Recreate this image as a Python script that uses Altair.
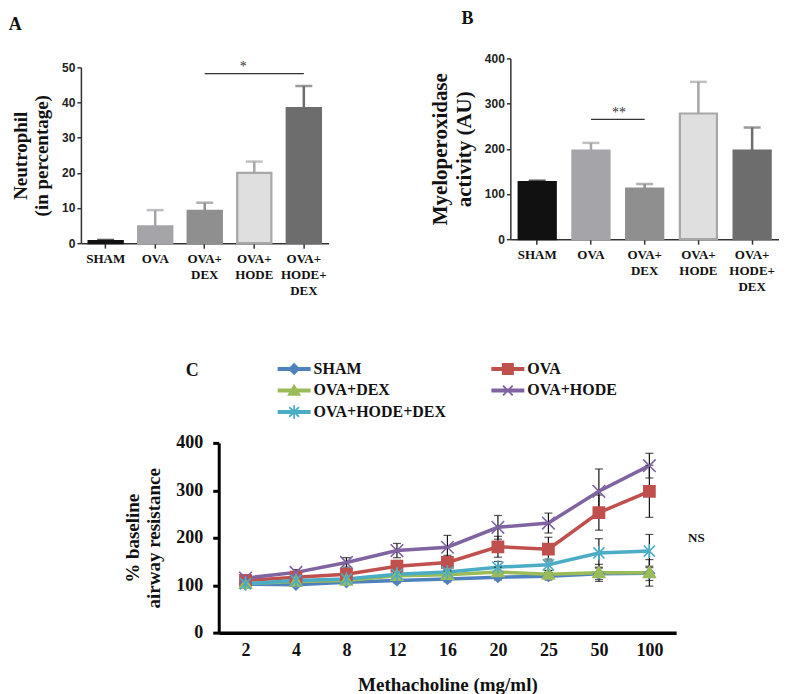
import json
import altair as alt
import pandas as pd

SERIF = "Liberation Serif"
SANS = "Liberation Sans"

# ---------------- Panels A and B ----------------
groups = ["SHAM", "OVA", "OVA+DEX", "OVA+HODE", "OVA+HODE+DEX"]
group_tick_lines = [["SHAM"], ["OVA"], ["OVA+", "DEX"], ["OVA+", "HODE"], ["OVA+", "HODE+", "DEX"]]

neutrophil_mean = [0.6, 4.8, 9.2, 20.0, 38.4]
neutrophil_sem = [0.3, 4.6, 2.3, 3.2, 6.3]

mpo_mean = [126, 196, 112, 278, 196]
mpo_sem = [3, 17, 10, 70, 51]

fills_a = ["#111111", "#a4a4a9", "#8f8f8f", "#dfdfdf", "#6d6d6d"]
edges_a = ["#111111", "#a4a4a9", "#8f8f8f", "#a7a7a7", "#6d6d6d"]
fills_b = ["#0b0b0b", "#a6a6ab", "#868686", "#d9d9d9", "#5f5f5f"]
edges_b = ["#0b0b0b", "#a6a6ab", "#868686", "#a6a6a6", "#5f5f5f"]

sig_a = {"start": "OVA+DEX", "end": "OVA+HODE+DEX", "level": 48.2, "star_at": "OVA+HODE",
         "star_y": 50.2, "label": "*"}
sig_b = {"start": "OVA", "end": "OVA+DEX", "level": 265, "star_at": "OVA", "star_y": 279,
         "label": "**"}

# ---------------- Panel C ----------------
doses = ["2", "4", "8", "12", "16", "20", "25", "50", "100"]
series_names = ["SHAM", "OVA", "OVA+DEX", "OVA+HODE", "OVA+HODE+DEX"]
series_colors = ["#4f81bd", "#c0504d", "#9bbb59", "#8064a2", "#4bacc6"]

sham = [102, 101, 106, 110, 113, 117, 119, 124, 125]
ova = [110, 117, 123, 140, 148, 181, 176, 253, 298]
ova_dex = [103, 108, 110, 120, 122, 128, 123, 126, 126]
ova_hode = [115, 127, 148, 173, 180, 222, 231, 298, 352]
ova_hode_dex = [103, 110, 113, 123, 128, 138, 143, 168, 172]

sham_err = [2, 3, 4, 5, 6, 6, 8, 12, 15]
ova_err = [5, 8, 10, 12, 15, 22, 25, 37, 55]
ova_dex_err = [3, 4, 5, 6, 8, 10, 8, 18, 28]
ova_hode_err = [5, 6, 10, 15, 25, 25, 21, 47, 26]
ova_hode_dex_err = [3, 5, 6, 8, 10, 12, 12, 30, 35]

marker_paths = [
    "M0,-0.72L0.72,0L0,0.72L-0.72,0Z",
    "M-0.8,-0.8H0.8V0.8H-0.8Z",
    "M0,-0.9L0.85,0.65H-0.85Z",
    "M-0.9,-0.9L0.9,0.9M-0.9,0.9L0.9,-0.9",
    "M-0.8,-0.8L0.8,0.8M-0.8,0.8L0.8,-0.8M0,-1L0,1",
]
# legend symbols: line segment + marker, all as filled (clockwise) outlines
legend_line = "M-1.65,-0.2H1.65V0.2H-1.65Z"
legend_cross = ("M-0.55,-0.42L-0.42,-0.55L0,-0.13L0.42,-0.55L0.55,-0.42L0.13,0"
                "L0.55,0.42L0.42,0.55L0,0.13L-0.42,0.55L-0.55,0.42L-0.13,0Z")
legend_paths = [
    legend_line + "M0,-0.62L0.62,0L0,0.62L-0.62,0Z",
    legend_line + "M-0.6,-0.6H0.6V0.6H-0.6Z",
    legend_line + "M0,-0.68L0.7,0.52H-0.7Z",
    legend_line + legend_cross,
    legend_line + legend_cross + "M-0.09,-0.68H0.09V0.68H-0.09Z",
]
# legend fills columns first: left column SHAM, OVA+DEX, OVA+HODE+DEX; right column OVA, OVA+HODE
legend_order = [0, 2, 4, 1, 3]

ns_note = {"dose": "100", "value": 200, "label": "NS"}


def bar_panel(letter, y_title, means, errs, fills, edges, y_max, y_step,
              width, height, top_gap, title_size, title_line, sig, title_dx, title_dy):
    df = pd.DataFrame({"group": groups, "value": means,
                       "top": [m + e for m, e in zip(means, errs)]})
    label_expr = json.dumps(dict(zip(groups, group_tick_lines))) + "[datum.label]"

    def X(field):
        return alt.X(f"{field}:N", title=None,
                     scale=alt.Scale(domain=groups, paddingInner=0.31, paddingOuter=0.155),
                     axis=alt.Axis(labelExpr=label_expr, labelAngle=0, labelFont=SERIF,
                                   labelFontWeight="bold", labelFontSize=13, labelLineHeight=16,
                                   labelColor="#111111", labelPadding=4, tickSize=5,
                                   tickWidth=1.5, tickColor="#333333", domainColor="#333333",
                                   domainWidth=1.5))

    def Y(field):
        return alt.Y(f"{field}:Q", title=y_title,
                     scale=alt.Scale(domain=[0, y_max], nice=False,
                                     range=[height, top_gap]),
                     axis=alt.Axis(values=list(range(0, y_max + 1, y_step)), labelFont=SANS,
                                   labelFontWeight="bold", labelFontSize=12, labelColor="#222222",
                                   tickSize=4, tickWidth=1.5, tickColor="#333333",
                                   domainColor="#333333", domainWidth=1.5, labelPadding=2,
                                   titleFont=SERIF, titleFontWeight="bold",
                                   titleFontSize=title_size, titleLineHeight=title_line,
                                   titleColor="#111111", titlePadding=10))

    edge_color = alt.Color("group:N", scale=alt.Scale(domain=groups, range=edges), legend=None)
    base = alt.Chart(df)
    err_line = base.mark_rule(strokeWidth=2.5).encode(x=X("group"), y=Y("value"), y2="top:Q",
                                                      color=edge_color)
    err_cap = base.mark_tick(thickness=2.5, size=17).encode(x=X("group"), y=Y("top"),
                                                            color=edge_color)
    bars = base.mark_bar(strokeWidth=2.2).encode(
        x=X("group"), y=Y("value"),
        fill=alt.Fill("group:N", scale=alt.Scale(domain=groups, range=fills), legend=None),
        stroke=alt.Stroke("group:N", scale=alt.Scale(domain=groups, range=edges), legend=None))

    sdf = pd.DataFrame([sig])
    sig_rule = alt.Chart(sdf).mark_rule(strokeWidth=1.3, color="#333333").encode(
        x=X("start"), x2="end:N", y=Y("level"))
    sig_text = alt.Chart(sdf).mark_text(font=SERIF, fontSize=14, color="#333333",
                                        dx=sig["dx"]).encode(
        x=X("star_at"), y=Y("star_y"), text="label:N")

    return alt.layer(err_line, err_cap, bars, sig_rule, sig_text).properties(
        width=width, height=height,
        title=alt.TitleParams(text=letter, anchor="start", frame="bounds", font=SERIF,
                              fontSize=18, fontWeight="bold", color="#111111",
                              offset=24, dx=title_dx, dy=title_dy))


sig_a["dx"] = -11
sig_b["dx"] = 28

panel_a = bar_panel("A", ["Neutrophil", "(in percentage)"], neutrophil_mean,
                    neutrophil_sem, fills_a, edges_a, 50, 10, 248, 185, 9, 19, 21, sig_a, -3, 0)
panel_b = bar_panel("B", ["Myeloperoxidase", "activity (AU)"], mpo_mean, mpo_sem,
                    fills_b, edges_b, 400, 100, 269, 181, 0, 21, 24, sig_b, 32, 0)

# ---------------- Panel C chart ----------------
rows = []
for name, vals, errs in zip(series_names,
                            [sham, ova, ova_dex, ova_hode, ova_hode_dex],
                            [sham_err, ova_err, ova_dex_err, ova_hode_err, ova_hode_dex_err]):
    for d, v, e in zip(doses, vals, errs):
        rows.append({"series": name, "dose": d, "value": v, "lo": v - e, "hi": v + e})
dfc = pd.DataFrame(rows)


def XC(field):
    return alt.X(f"{field}:O", title="Methacholine (mg/ml)",
                 scale=alt.Scale(type="point", domain=doses, padding=0.53),
                 axis=alt.Axis(labelAngle=0, ticks=False, labelFont=SERIF, labelFontWeight="bold",
                               labelFontSize=18, labelColor="#111111", labelPadding=9,
                               domainColor="#000000", domainWidth=3.5, titleFont=SERIF,
                               titleFontWeight="bold", titleFontSize=19, titleColor="#111111",
                               titlePadding=16))


def YC(field):
    return alt.Y(f"{field}:Q", title=["% baseline", "airway resistance"],
                 scale=alt.Scale(domain=[0, 400], nice=False),
                 axis=alt.Axis(values=[0, 100, 200, 300, 400], labelFont=SERIF,
                               labelFontWeight="bold", labelFontSize=18, labelColor="#111111",
                               tickSize=6, tickWidth=3, tickColor="#000000", labelPadding=10,
                               domainColor="#000000", domainWidth=3, titleFont=SERIF,
                               titleFontWeight="bold", titleFontSize=19, titleLineHeight=21,
                               titleColor="#111111", titlePadding=12))


color_c = alt.Color("series:N", scale=alt.Scale(domain=series_names, range=series_colors),
                    legend=None)
basec = alt.Chart(dfc)
lines = basec.mark_line(strokeWidth=3.5).encode(x=XC("dose"), y=YC("value"), color=color_c,
                                                detail="series:N")
err_c = basec.mark_rule(strokeWidth=1.2, color="#111111").encode(x=XC("dose"), y=YC("lo"),
                                                                 y2="hi:Q")
cap_lo = basec.mark_tick(thickness=1.2, size=8, color="#111111").encode(x=XC("dose"), y=YC("lo"))
cap_hi = basec.mark_tick(thickness=1.2, size=8, color="#111111").encode(x=XC("dose"), y=YC("hi"))
points = basec.mark_point(size=196, strokeWidth=1.6, filled=True, opacity=1).encode(
    x=XC("dose"), y=YC("value"),
    shape=alt.Shape("series:N", scale=alt.Scale(domain=series_names, range=marker_paths),
                    legend=None),
    fill=alt.Fill("series:N", scale=alt.Scale(domain=series_names, range=series_colors),
                  legend=None),
    stroke=alt.Stroke("series:N", scale=alt.Scale(domain=series_names, range=series_colors),
                      legend=None))

# legend-only layer: its anchor points lie far outside the clipped plot area
lg_names = [series_names[i] for i in legend_order]
lg_paths = [legend_paths[i] for i in legend_order]
lg_colors = [series_colors[i] for i in legend_order]
legend_df = pd.DataFrame({"entry": lg_names, "dose": ["2"] * 5, "value": [-1000] * 5})
leg = alt.Legend(title=None, orient="none", legendX=65.5, legendY=-84, columns=2,
                 columnPadding=44, rowPadding=3.5, symbolSize=400, symbolStrokeWidth=0,
                 symbolOpacity=1, labelFont=SERIF, labelFontWeight="bold", labelFontSize=16,
                 labelColor="#111111", labelOffset=9.5, padding=0)
legend_layer = alt.Chart(legend_df).mark_point(size=400, filled=True, clip=True).encode(
    x=XC("dose"), y=YC("value"),
    shape=alt.Shape("entry:N", scale=alt.Scale(domain=lg_names, range=lg_paths), legend=leg),
    color=alt.Color("entry:N", scale=alt.Scale(domain=lg_names, range=lg_colors), legend=leg))

ns_text = alt.Chart(pd.DataFrame([ns_note])).mark_text(
    font=SERIF, fontWeight="bold", fontSize=13, color="#111111", dx=47).encode(
    x=XC("dose"), y=YC("value"), text="label:N")

panel_c = alt.layer(lines, err_c, cap_lo, cap_hi, points, legend_layer, ns_text).resolve_scale(
    shape="independent", fill="independent", stroke="independent", color="independent"
).properties(
    width=458, height=190,
    title=alt.TitleParams(text="C", anchor="start", frame="group", font=SERIF, fontSize=18,
                          fontWeight="bold", color="#111111", dx=-33, dy=21, offset=0))

spacer = alt.Chart(pd.DataFrame({"t": [""]})).mark_text().encode(text="t:N").properties(
    width=23, height=1)

top_row = alt.hconcat(panel_a, panel_b, spacing=100)
bottom_row = alt.hconcat(spacer, panel_c, spacing=20)

chart = alt.vconcat(top_row, bottom_row, spacing=62).properties(
    padding={"top": 2, "left": 0, "right": 0, "bottom": 0}, background="white"
).configure_view(stroke=None).configure_axis(grid=False)

chart.save("out.html", embed_options={"renderer": "svg", "actions": False})
